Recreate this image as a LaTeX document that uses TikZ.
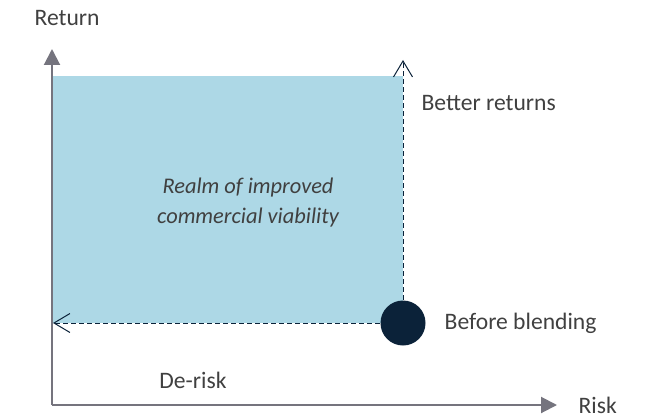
\documentclass[tikz,border=0pt]{standalone}
\usepackage{fontspec}
\setmainfont{Carlito}
\usepackage{tikz}
\usetikzlibrary{arrows.meta,positioning}

\definecolor{realm}{HTML}{ADD8E6}
\definecolor{axisgray}{HTML}{75747E}
\definecolor{navy}{HTML}{0B2239}
\definecolor{txtgray}{HTML}{404040}

\begin{document}
\begin{tikzpicture}[x=0.5pt,y=0.5pt,semithick,
                    font=\fontsize{11.8}{15}\selectfont,text=txtgray]
  \tikzstyle{axis}=[draw=axisgray,line width=1pt,-{Triangle[length=8pt,width=8pt]}]
  \tikzstyle{move}=[draw=navy,line width=0.5pt,dash pattern=on 2.5pt off 1.5pt,
                    -{Straight Barb[length=8pt,width=9.5pt,line width=0.5pt]}]
  \tikzstyle{label}=[inner sep=0pt,anchor=west]

  \useasboundingbox (0,0) rectangle (646,418);

  \coordinate (origin)  at (52,13);
  \coordinate (ytip)    at (52,369);
  \coordinate (xtip)    at (557,13);
  \coordinate (uptip)   at (403,358);
  \coordinate (lefttip) at (53,95);

  % realm of improved viability
  \fill[realm] (52,95) rectangle (403,342);

  \node[circle,fill=navy,minimum size=22.5pt,inner sep=0pt] (before) at (403,95) {};

  \draw[axis] (origin) -- (ytip);
  \draw[axis] (origin) -- (xtip);

  \path[move] (before) -- (uptip);
  \path[move] (before) -- (lefttip);

  \node (realmtext) at (248,215) [align=center,font=\fontsize{11.2}{15}\selectfont\itshape]
        {Realm of improved\\commercial viability};
  \node[label] (return)  at (34,400)  {Return};
  \node[label] (better)  at (421,315) {Better returns};
  \node[label] (blend) [right=9pt of before] {Before blending};
  \node (derisk) at (193,38) {De-risk};
  \node[label] (risk)    at (578,13)  {Risk};

\end{tikzpicture}
\end{document}
